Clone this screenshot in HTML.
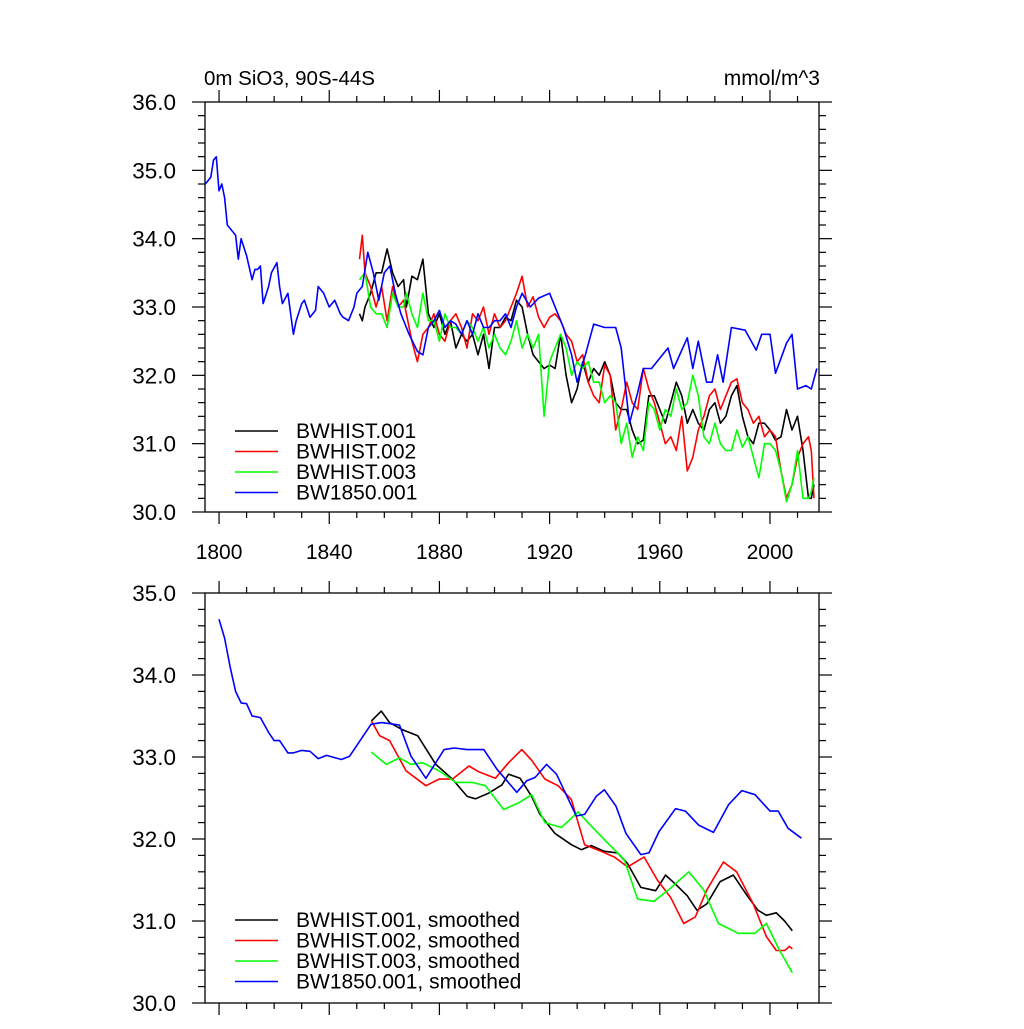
<!DOCTYPE html>
<html><head><meta charset="utf-8"><style>
body{margin:0;background:#fff}
svg text{font-family:"Liberation Sans",sans-serif;fill:#000}
</style></head><body>
<svg id="chart" width="1024" height="1024" viewBox="0 0 1024 1024" xmlns="http://www.w3.org/2000/svg">
<rect width="1024" height="1024" fill="#fff"/>
<text x="204" y="85" font-size="20.5">0m SiO3, 90S-44S</text>
<text x="820" y="85" font-size="21" text-anchor="end">mmol/m^3</text>
<g id="top"></g><g id="bot"></g>
</svg>
<script>
const topYears_blue=[1795,1797,1798,1799,1800,1801,1802,1803,1805,1806,1807,1808,1810,1812,1813,1814,1815,1816,1818,1819,1821,1822,1823,1825,1827,1828,1830,1831,1833,1835,1836,1838,1840,1842,1844,1845,1847,1849,1850,1852,1854,1856,1858,1860,1862,1864,1866,1869,1872,1874,1876,1878,1880,1882,1884,1886,1888,1890,1892,1894,1896,1898,1900,1902,1904,1906,1908,1910,1913,1916,1920,1923,1925,1928,1930,1933,1936,1940,1944,1946,1949,1952,1954,1957,1961,1963,1965,1970,1972,1974,1977,1979,1981,1983,1986,1991,1995,1997,2000,2002,2006,2008,2010,2013,2015,2017];
const topVals_blue=[34.8,34.9,35.15,35.2,34.7,34.8,34.6,34.2,34.1,34.05,33.7,34.0,33.75,33.4,33.55,33.55,33.6,33.05,33.3,33.5,33.65,33.3,33.05,33.2,32.6,32.8,33.05,33.1,32.85,32.95,33.3,33.2,33.0,33.1,32.9,32.85,32.8,33.0,33.2,33.3,33.8,33.5,33.1,33.5,33.6,33.2,32.9,32.6,32.35,32.3,32.7,32.8,32.95,32.7,32.8,32.75,32.6,32.8,32.6,32.9,32.7,32.7,32.8,32.8,32.9,32.7,33.0,33.2,33.0,33.13,33.2,32.9,32.7,32.3,31.9,32.3,32.75,32.7,32.7,32.4,31.3,31.75,32.1,32.1,32.3,32.4,32.1,32.55,32.1,32.5,31.9,31.9,32.3,31.9,32.7,32.66,32.37,32.6,32.6,32.03,32.47,32.6,31.8,31.85,31.8,32.1];
const topYears_hist=[1851,1852,1853,1855,1857,1859,1861,1863,1865,1867,1868,1870,1872,1874,1876,1878,1880,1882,1884,1886,1888,1890,1892,1894,1896,1898,1900,1902,1904,1906,1908,1910,1912,1914,1916,1918,1920,1922,1924,1926,1928,1930,1932,1934,1936,1938,1940,1942,1944,1946,1948,1950,1952,1954,1956,1958,1960,1962,1964,1966,1968,1970,1972,1974,1976,1978,1980,1982,1984,1986,1988,1990,1992,1994,1996,1998,2000,2002,2004,2006,2008,2010,2012,2014,2015,2016];
const topVals_h1=[32.9,32.8,33.0,33.2,33.5,33.5,33.85,33.5,33.3,33.4,33.0,33.45,33.4,33.7,32.9,32.7,32.9,32.6,32.8,32.4,32.6,32.5,32.6,32.3,32.6,32.1,32.7,32.7,32.85,32.8,33.1,33.0,32.6,32.3,32.2,32.1,32.15,32.1,32.6,32.0,31.6,31.8,32.2,31.9,32.1,32.0,32.2,32.0,31.6,31.5,31.5,31.2,31.0,31.05,31.7,31.7,31.5,31.3,31.6,31.9,31.7,31.3,31.5,31.3,31.2,31.5,31.6,31.3,31.4,31.7,31.85,31.4,31.1,31.0,31.3,31.3,31.2,31.05,31.1,31.5,31.2,31.4,30.9,30.2,30.2,30.4];
const topVals_h2=[33.7,34.05,33.5,33.3,33.0,33.3,32.8,33.3,33.0,33.1,32.9,32.5,32.2,32.6,32.7,32.9,32.6,32.5,32.8,32.9,32.7,32.4,32.9,32.8,33.0,32.6,32.9,32.7,32.8,33.0,33.2,33.45,33.0,33.15,32.85,32.7,32.85,32.9,32.8,32.6,32.5,32.2,32.3,31.9,31.7,31.6,32.15,32.0,31.2,31.5,31.9,31.6,31.5,32.1,31.8,31.6,31.3,31.0,31.1,30.9,31.4,30.6,30.8,31.2,31.4,31.7,31.8,31.5,31.7,31.9,31.95,31.6,31.5,31.3,31.4,31.1,31.2,31.1,30.6,30.2,30.4,30.8,31.0,31.1,30.9,30.2];
const topVals_h3=[33.4,33.45,33.5,33.0,32.9,32.9,32.7,33.2,33.0,33.0,33.2,32.9,32.7,33.2,32.8,32.8,32.5,32.9,32.7,32.7,32.6,32.8,32.7,32.5,32.7,32.4,32.6,32.4,32.3,32.5,32.8,32.4,32.6,32.4,32.6,31.4,32.2,32.4,32.6,32.4,32.0,32.2,32.1,32.2,31.9,31.9,31.6,31.7,31.6,31.0,31.3,30.8,31.1,30.9,31.6,31.5,31.2,31.5,31.4,31.8,31.5,31.6,32.0,31.7,31.1,31.0,31.3,31.0,30.9,30.9,31.2,30.95,31.1,30.8,30.5,31.0,31.0,30.9,30.6,30.15,30.4,30.9,30.2,30.2,30.3,30.5];

const botYears_blue=[1800,1802,1804,1806,1808,1810,1812,1815,1818,1820,1822,1825,1827,1830,1833,1836,1839,1844.4,1847.4,1855.2,1859,1865.5,1869.7,1875.1,1881.7,1885.3,1890.1,1896.1,1900.9,1908.1,1911.7,1914.7,1918.9,1922.5,1929.7,1932.7,1936.9,1939.9,1944.1,1947.7,1953.1,1956.1,1959.7,1965.7,1969.3,1974.1,1979.5,1985,1989.8,1994.6,2000,2003,2006.6,2011.4];
const botVals_blue=[34.68,34.45,34.1,33.8,33.66,33.65,33.5,33.48,33.3,33.2,33.2,33.05,33.05,33.08,33.07,32.98,33.02,32.97,33.01,33.40,33.42,33.39,33.01,32.74,33.09,33.11,33.09,33.09,32.85,32.57,32.71,32.75,32.91,32.79,32.28,32.30,32.52,32.60,32.40,32.07,31.81,31.83,32.09,32.37,32.34,32.17,32.08,32.42,32.59,32.54,32.34,32.34,32.13,32.01];
const botYears_h1=[1855.3,1858.9,1861.9,1866.7,1872.1,1878.7,1884.7,1890.1,1893.1,1897.9,1902.7,1905.1,1909.3,1913.5,1916.5,1921.9,1927.9,1931.5,1935.1,1939.9,1944.7,1948.3,1953.1,1958.5,1962.1,1966.3,1969.9,1973.5,1977.1,1981.9,1986.7,1992.1,1995.7,1998.7,2002.3,2005.3,2008.1];
const botVals_h1=[33.44,33.56,33.42,33.33,33.26,32.91,32.73,32.52,32.49,32.56,32.66,32.79,32.74,32.52,32.30,32.07,31.93,31.87,31.92,31.85,31.83,31.70,31.41,31.37,31.56,31.43,31.31,31.13,31.21,31.48,31.56,31.29,31.13,31.07,31.10,31.00,30.88];
const botYears_h2=[1855.3,1858.3,1861.9,1867.9,1875.1,1879.9,1884.7,1890.7,1894.3,1900.3,1905.1,1909.9,1913.5,1918.3,1923.1,1927.9,1932.7,1938.7,1943.5,1948.3,1954.3,1959.1,1963.9,1968.7,1972.9,1977.1,1983.1,1987.9,1993.9,1998.7,2002.3,2005.3,2007.1,2008.1];
const botVals_h2=[33.44,33.26,33.20,32.83,32.65,32.73,32.73,32.89,32.82,32.74,32.93,33.09,32.96,32.73,32.65,32.48,31.93,31.85,31.78,31.66,31.78,31.50,31.29,30.97,31.05,31.38,31.72,31.60,31.21,30.81,30.64,30.64,30.69,30.66];
const botYears_h3=[1855.3,1860.7,1865.5,1869.7,1873.9,1879.9,1885.9,1891.9,1896.7,1903.3,1908.7,1913.5,1918.3,1924.3,1930.3,1935.1,1941.1,1947.1,1951.9,1957.9,1963.9,1970.5,1975.9,1981.3,1988.5,1994.5,1998.7,2003.5,2008.1];
const botVals_h3=[33.06,32.91,32.99,32.91,32.93,32.83,32.69,32.69,32.65,32.36,32.44,32.54,32.20,32.14,32.33,32.16,31.95,31.75,31.27,31.24,31.40,31.60,31.38,30.97,30.85,30.85,30.97,30.64,30.37];

const xTicks=[1800,1840,1880,1920,1960,2000];
const topYTicks=[30,31,32,33,34,35,36];
const botYTicks=[30,31,32,33,34,35];
const topLegend=["BWHIST.001","BWHIST.002","BWHIST.003","BW1850.001"];
const botLegend=["BWHIST.001, smoothed","BWHIST.002, smoothed","BWHIST.003, smoothed","BW1850.001, smoothed"];

const NS="http://www.w3.org/2000/svg";
const L=205,R=819,X0=1794.9,X1=2017.8;
const sx=y=>L+(y-X0)/(X1-X0)*(R-L);
function mk(tag,attrs,parent){const e=document.createElementNS(NS,tag);for(const k in attrs)e.setAttribute(k,attrs[k]);parent.appendChild(e);return e;}
function panel(g,T,B,ymin,ymax,yt,showX,series,legend,legY){
  const sy=v=>B-(v-ymin)/(ymax-ymin)*(B-T);
  const fr=mk('rect',{x:L,y:T,width:R-L,height:B-T,fill:'none',stroke:'#000','stroke-width':1.3},g);
  
  
  for(let v=ymin;v<=ymax+1e-6;v+=0.2){
    const maj=Math.abs(v-Math.round(v))<1e-6, len=maj?13:7;
    const y=sy(v);
    mk('line',{x1:L-len,x2:L,y1:y,y2:y,stroke:'#000','stroke-width':1.2},g);
    mk('line',{x1:R,x2:R+len,y1:y,y2:y,stroke:'#000','stroke-width':1.2},g);
  }
  yt.forEach(v=>{const t=mk('text',{x:176,y:sy(v)+8,'font-size':22.5,'text-anchor':'end'},g);t.textContent=v.toFixed(1);
    
    });
  for(let yr=1800;yr<=2010;yr+=10){
    const maj=(yr%40===0),len=maj?12:6,x=sx(yr);
    mk('line',{x1:x,x2:x,y1:B,y2:B+len,stroke:'#000','stroke-width':1.2},g);
    mk('line',{x1:x,x2:x,y1:T-len,y2:T,stroke:'#000','stroke-width':1.2},g);
  }
  if(showX) xTicks.forEach(yr=>{const t=mk('text',{x:sx(yr),y:B+47,'font-size':21,'text-anchor':'middle'},g);t.textContent=yr;
    
    });
  series.forEach(s=>{
    const p=mk('polyline',{points:s.x.map((yr,i)=>sx(yr).toFixed(1)+','+sy(s.y[i]).toFixed(1)).join(' '),fill:'none',stroke:s.c,'stroke-width':1.6,'stroke-linejoin':'round'},g);
    
    
  });
  const cols=['#000','#f00','#0f0','#00f'];
  legend.forEach((lab,i)=>{
    const y=legY+i*20.5;
    const ln=mk('line',{x1:235,x2:278,y1:y,y2:y,stroke:cols[i],'stroke-width':1.6},g);
    
    
    const t=mk('text',{x:296,y:y+7,'font-size':21},g);t.textContent=lab;
    
    
  });
}
panel(document.getElementById('top'),102,512,30,36,topYTicks,true,[
 {x:topYears_hist,y:topVals_h1,c:'#000',n:'series-bwhist-001'},
 {x:topYears_hist,y:topVals_h2,c:'#f00',n:'series-bwhist-002'},
 {x:topYears_hist,y:topVals_h3,c:'#0f0',n:'series-bwhist-003'},
 {x:topYears_blue,y:topVals_blue,c:'#00f',n:'series-bw1850-001'}],topLegend,431);
panel(document.getElementById('bot'),593,1003,30,35,botYTicks,false,[
 {x:botYears_h1,y:botVals_h1,c:'#000',n:'smoothed-bwhist-001'},
 {x:botYears_h2,y:botVals_h2,c:'#f00',n:'smoothed-bwhist-002'},
 {x:botYears_h3,y:botVals_h3,c:'#0f0',n:'smoothed-bwhist-003'},
 {x:botYears_blue,y:botVals_blue,c:'#00f',n:'smoothed-bw1850-001'}],botLegend,920);
</script>
</body></html>
